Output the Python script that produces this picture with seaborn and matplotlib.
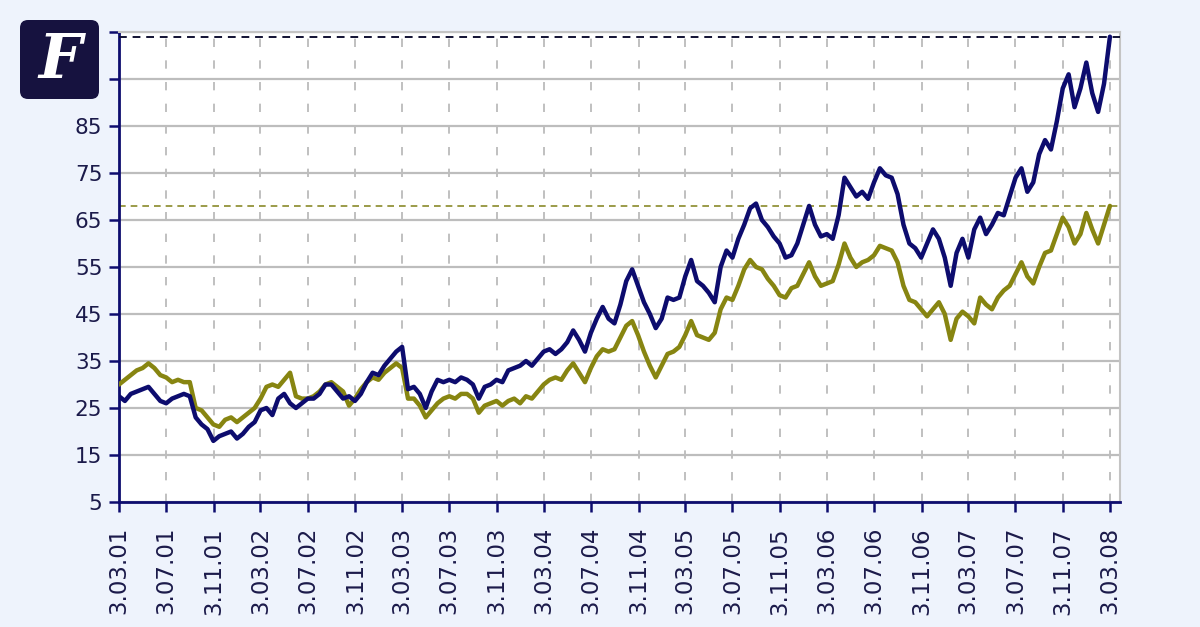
import pandas as pd
import matplotlib.pyplot as plt
import seaborn as sns
from matplotlib.patches import FancyBboxPatch


# half-monthly readings, 13.03.2001 .. 13.03.2008
blue_values = [
    27.5, 26.5, 28, 28.5, 29, 29.5, 28, 26.5, 26, 27, 27.5, 28,
    27.5, 23, 21.5, 20.5, 18, 19, 19.5, 20, 18.5, 19.5, 21, 22,
    24.5, 25, 23.5, 27, 28, 26, 25, 26, 27, 27, 28, 30,
    30, 28.5, 27, 27.5, 26.5, 28, 30.5, 32.5, 32, 34, 35.5, 37,
    38, 29, 29.5, 28, 25, 28.5, 31, 30.5, 31, 30.5, 31.5, 31,
    30, 27, 29.5, 30, 31, 30.5, 33, 33.5, 34, 35, 34, 35.5,
    37, 37.5, 36.5, 37.5, 39, 41.5, 39.5, 37, 41, 44, 46.5, 44,
    43, 47, 52, 54.5, 51, 47.5, 45, 42, 44, 48.5, 48, 48.5,
    53, 56.5, 52, 51, 49.5, 47.5, 55, 58.5, 57, 61, 64, 67.5,
    68.5, 65, 63.5, 61.5, 60, 57, 57.5, 60, 64, 68, 64, 61.5,
    62, 61, 66, 74, 72, 70, 71, 69.5, 73, 76, 74.5, 74,
    70.5, 64, 60, 59, 57, 60, 63, 61, 57, 51, 58, 61,
    57, 63, 65.5, 62, 64, 66.5, 66, 70, 74, 76, 71, 73,
    79, 82, 80, 86, 93, 96, 89, 93, 98.5, 92, 88, 94,
    104,
]

olive_values = [
    30, 31, 32, 33, 33.5, 34.5, 33.5, 32, 31.5, 30.5, 31, 30.5,
    30.5, 25, 24.5, 23, 21.5, 21, 22.5, 23, 22, 23, 24, 25,
    27, 29.5, 30, 29.5, 31, 32.5, 27.5, 27, 27, 27.5, 28.5, 30,
    30.5, 29.5, 28.5, 25.5, 27, 29, 30.5, 31.5, 31, 32.5, 33.5, 34.5,
    33.5, 27, 27, 25.5, 23, 24.5, 26, 27, 27.5, 27, 28, 28,
    27, 24, 25.5, 26, 26.5, 25.5, 26.5, 27, 26, 27.5, 27, 28.5,
    30, 31, 31.5, 31, 33, 34.5, 32.5, 30.5, 33.5, 36, 37.5, 37,
    37.5, 40, 42.5, 43.5, 40.5, 37, 34, 31.5, 34, 36.5, 37, 38,
    40.5, 43.5, 40.5, 40, 39.5, 41, 46, 48.5, 48, 51, 54.5, 56.5,
    55, 54.5, 52.5, 51, 49, 48.5, 50.5, 51, 53.5, 56, 53, 51,
    51.5, 52, 55.5, 60, 57, 55, 56, 56.5, 57.5, 59.5, 59, 58.5,
    56, 51, 48, 47.5, 46, 44.5, 46, 47.5, 45, 39.5, 44, 45.5,
    44.5, 43, 48.5, 47, 46, 48.5, 50, 51, 53.5, 56, 53, 51.5,
    55, 58, 58.5, 62, 65.5, 63.5, 60, 62, 66.5, 63, 60, 64,
    68,
]

x_labels = [
    "3.03.01", "3.07.01", "3.11.01", "3.03.02", "3.07.02", "3.11.02",
    "3.03.03", "3.07.03", "3.11.03", "3.03.04", "3.07.04", "3.11.04",
    "3.03.05", "3.07.05", "3.11.05", "3.03.06", "3.07.06", "3.11.06",
    "3.03.07", "3.07.07", "3.11.07", "3.03.08",
]
y_ticks = [5, 15, 25, 35, 45, 55, 65, 75, 85, 95, 105]
# the two top labels sit under the logo badge in the original
y_labels = ["5", "15", "25", "35", "45", "55", "65", "75", "85", "", ""]

NAVY = "#0d0c6e"
OLIVE = "#878511"
TEXT = "#1b1a4a"
BG = "#eef3fc"


def main():
    dates = pd.date_range("2001-03-13", "2008-03-13", periods=len(blue_values))
    df = pd.DataFrame({
        "date": list(dates) * 2,
        "value": blue_values + olive_values,
        "series": ["blue"] * len(blue_values) + ["olive"] * len(olive_values),
    })
    tick_dates = pd.date_range("2001-03-13", periods=len(x_labels), freq=pd.DateOffset(months=4))

    sns.set_theme(style="white")
    plt.rcParams["font.family"] = ["DejaVu Sans"]

    fig = plt.figure(figsize=(12, 6.27), dpi=100, facecolor=BG)
    ax = fig.add_axes([119 / 1200, 1 - 502 / 627, 1001 / 1200, 470 / 627])
    ax.set_facecolor("white")

    sns.lineplot(data=df, x="date", y="value", hue="series",
                 palette={"blue": NAVY, "olive": OLIVE},
                 hue_order=["olive", "blue"], linewidth=3.2,
                 legend=False, ax=ax, zorder=3)

    ax.axhline(max(blue_values), color="#111133", lw=1.4, ls=(0, (4, 3)), zorder=4)
    ax.axhline(olive_values[-1], color="#8a8a2a", lw=1.2, ls=(0, (4, 3)), zorder=2)

    ax.set_xlim(pd.Timestamp("2001-03-13"), pd.Timestamp("2008-04-08"))
    ax.set_ylim(5, 105)
    ax.set_xticks(tick_dates)
    ax.set_xticklabels(x_labels, rotation=90, va="top", ha="center")
    ax.set_yticks(y_ticks)
    ax.set_yticklabels(y_labels)
    ax.set_xlabel("")
    ax.set_ylabel("")

    ax.grid(axis="y", color="#bdbdbd", lw=1.6, ls="-", zorder=1)
    ax.grid(axis="x", color="#b5b5b5", lw=1.2, ls=(0, (5, 8)), zorder=1)
    ax.set_axisbelow(True)

    ax.tick_params(axis="both", colors=NAVY, labelcolor=TEXT, labelsize=15.5,
                   length=7, width=1.8, direction="out")
    ax.tick_params(axis="x", pad=11, labelsize=16.5)
    ax.tick_params(axis="y", pad=5)
    ax.tick_params(left=True, bottom=True)

    for side in ["left", "bottom"]:
        ax.spines[side].set_color(NAVY)
        ax.spines[side].set_linewidth(2)
    for side in ["top", "right"]:
        ax.spines[side].set_color("#c4c4c4")
        ax.spines[side].set_linewidth(1.5)

    # logo badge top left
    logo = fig.add_axes([0, 0, 1, 1], zorder=10)
    logo.set_axis_off()
    logo.set_xlim(0, 1200)
    logo.set_ylim(627, 0)
    logo.add_patch(FancyBboxPatch((20, 20), 79, 79,
                                  boxstyle="round,pad=0,rounding_size=8",
                                  facecolor="#16123f", edgecolor="none"))
    logo.text(60, 61, "F", color="white", fontsize=44, family="DejaVu Serif",
              style="italic", weight="bold", ha="center", va="center")

    fig.savefig("out.png", dpi=100, facecolor=BG)
    plt.close(fig)


if __name__ == "__main__":
    main()
